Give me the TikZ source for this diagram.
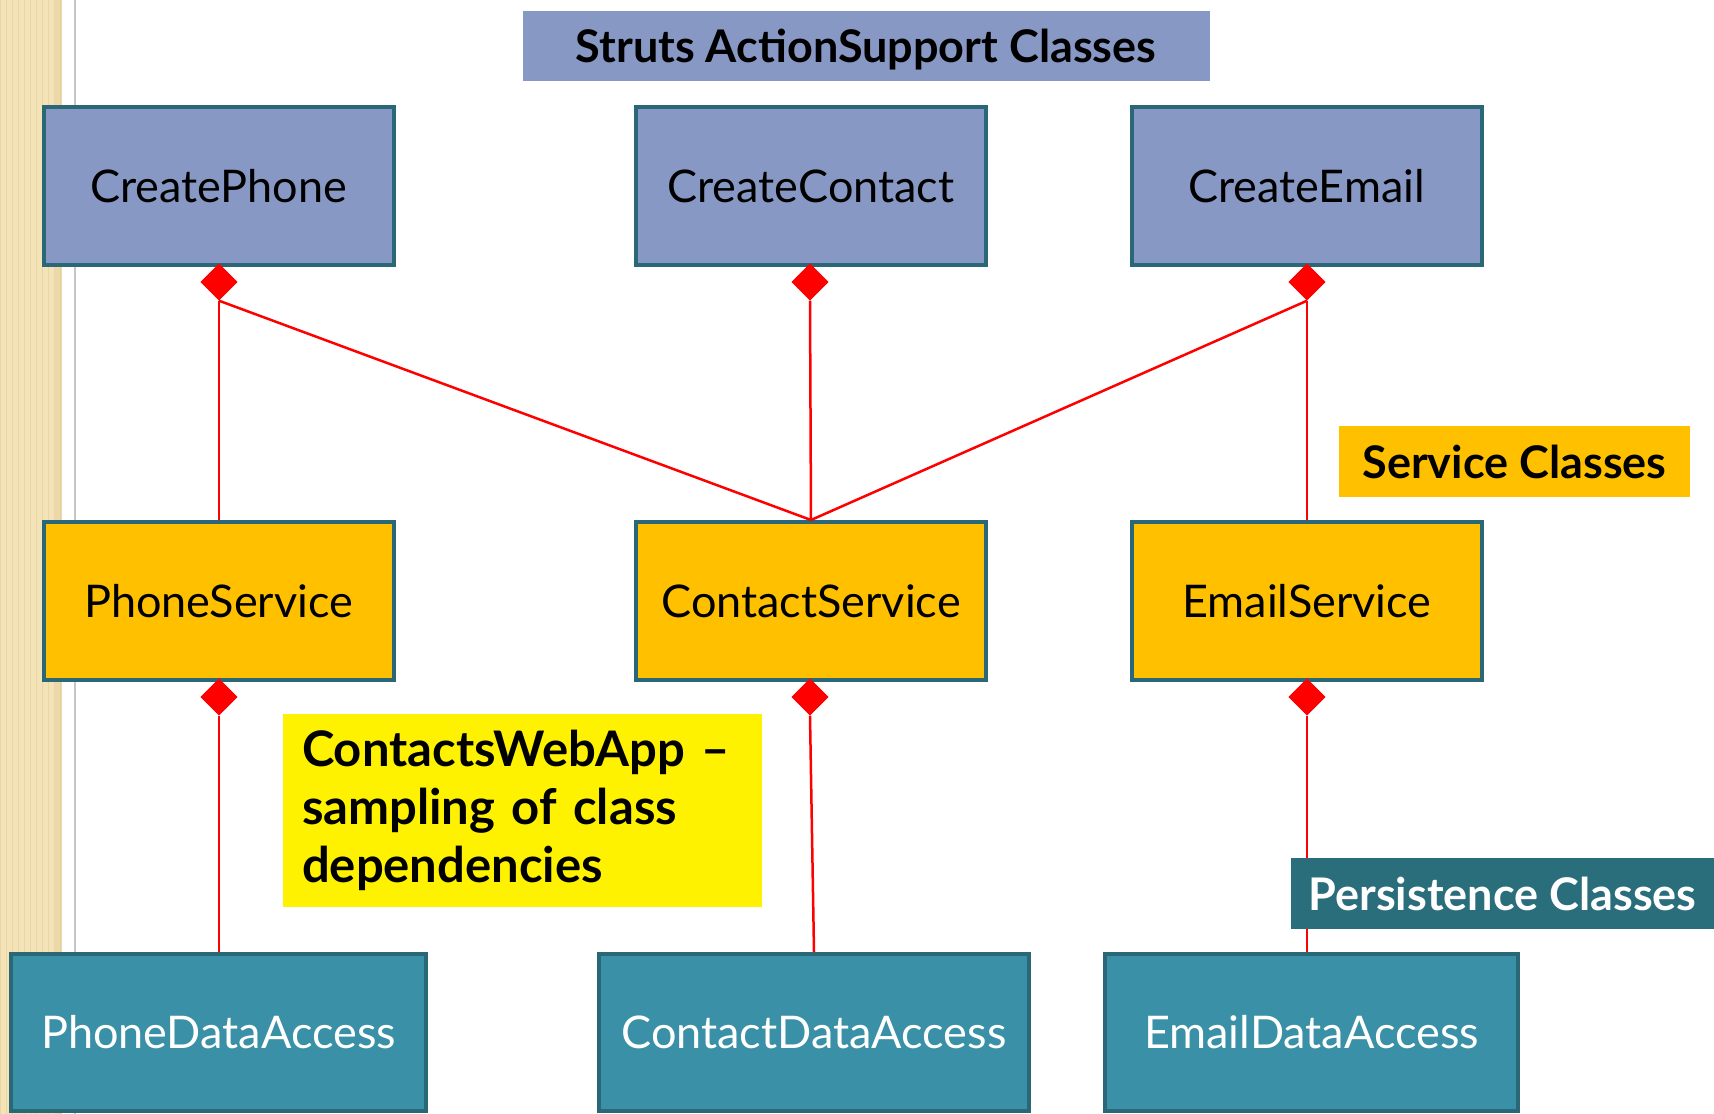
\documentclass[tikz,border=0pt]{standalone}
\usepackage{fontspec}
\setmainfont{Lato}
\usetikzlibrary{shapes.geometric}
\definecolor{actblue}{HTML}{8898C4}
\definecolor{bordteal}{HTML}{2A6878}
\definecolor{svcorange}{HTML}{FFC000}
\definecolor{datateal}{HTML}{3A90A6}
\definecolor{persteal}{HTML}{2A6E7C}
\definecolor{beige}{HTML}{F3E3B6}
\definecolor{beigedark}{HTML}{E8D6A8}
\tikzset{
  cls/.style={draw=bordteal, line width=4pt, rectangle, inner sep=0pt,
    minimum width=350pt, minimum height=158pt, font=\fontsize{45}{50}\selectfont},
  actbox/.style={cls, fill=actblue, text=black},
  svcbox/.style={cls, fill=svcorange, text=black},
  databox/.style={cls, fill=datateal, text=white, minimum height=157pt},
  dia/.style={diamond, fill=red, inner sep=0pt, minimum width=37pt, minimum height=37pt},
  dep/.style={draw=red, line width=2.5pt},
  lbl/.style={rectangle, inner sep=0pt, font=\bfseries\fontsize{45}{50}\selectfont}
}
\begin{document}
\begin{tikzpicture}[x=1pt, y=-1pt]
\useasboundingbox (0,0) rectangle (1714,1114);
\fill[white] (0,0) rectangle (1714,1114);
% left decorative strip
\fill[beige] (0,0) rectangle (62,1114);
\draw[beigedark, line width=0.8pt, step=6] (0,0) grid (62,1114);
\fill[beigedark!80!brown, opacity=0.35] (55,0) rectangle (62,1114);
\draw[gray!45, line width=1.5pt] (75,0) -- (75,1114);

% action classes
\node[actbox] (CP) at (218.6,186) {CreatePhone};
\node[actbox] (CC) at (811,186) {CreateContact};
\node[actbox] (CE) at (1306.8,186) {CreateEmail};
% service classes
\node[svcbox] (PS) at (218.6,601) {PhoneService};
\node[svcbox] (CS) at (811,601) {ContactService};
\node[svcbox] (ES) at (1306.8,601) {EmailService};
% data access classes
\node[databox, minimum width=415pt] (PDA) at (218.5,1032.5) {PhoneDataAccess};
\node[databox, minimum width=430pt] (CDA) at (814,1032.5) {ContactDataAccess};
\node[databox, minimum width=413pt] (EDA) at (1311.5,1032.5) {EmailDataAccess};

% diamonds
\node[dia] (dCP) at (219,282) {};
\node[dia] (dCC) at (810,282) {};
\node[dia] (dCE) at (1307,282) {};
\node[dia] (dPS) at (219,697) {};
\node[dia] (dCS) at (810,697) {};
\node[dia] (dES) at (1307,697) {};

% connectors
\draw[dep] (dCP.south) -- (dCP.south |- PS.north);
\draw[dep] (dCP.south) -- (CS.north);
\draw[dep] (dCC.south) -- (CS.north);
\draw[dep] (dCE.south) -- (CS.north);
\draw[dep] (dCE.south) -- (dCE.south |- ES.north);
\draw[dep] (dPS.south) -- (dPS.south |- PDA.north);
\draw[dep] (dCS.south) -- (CDA.north);
\draw[dep] (dES.south) -- (dES.south |- EDA.north);
\node[dia] at (dCP) {};
\node[dia] at (dCC) {};
\node[dia] at (dCE) {};
\node[dia] at (dPS) {};
\node[dia] at (dCS) {};
\node[dia] at (dES) {};

% category labels
\node[lbl, fill=actblue, minimum width=687pt, minimum height=70pt, text depth=0pt] (Lact) at (866,46) {Struts ActionSupport Classes};
\node[lbl, fill=svcorange, minimum width=351pt, minimum height=71pt] (Lsvc) at (1514.5,461.5) {Service Classes};
\node[lbl, fill=persteal, text=white, minimum width=423pt, minimum height=71pt] (Lper) at (1502.5,893.5) {Persistence Classes};
\node[lbl, fill=yellow, minimum width=479pt, minimum height=193pt, text width=451pt,
  inner xsep=14pt, align=left, font=\bfseries\fontsize{49}{58}\selectfont] (Lnote) at (522.5,810.5)
  {\hspace*{5pt}ContactsWebApp –\\ \hspace*{5pt}sampling of class\\ \hspace*{5pt}dependencies};
\end{tikzpicture}
\end{document}
